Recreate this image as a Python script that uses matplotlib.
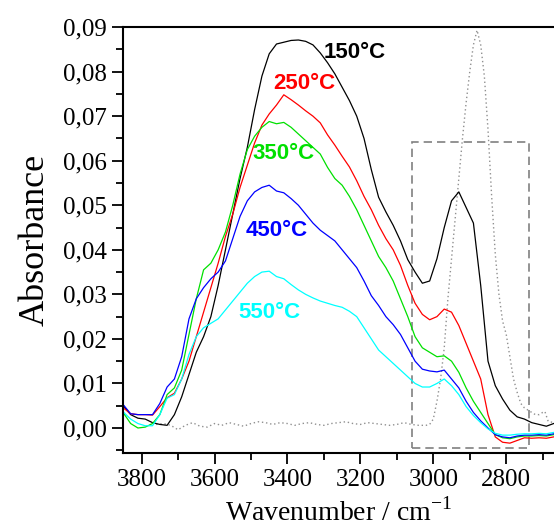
"""FTIR spectra of the adsorbed species at different temperatures."""

import matplotlib

matplotlib.use("Agg")
import matplotlib.pyplot as plt
from matplotlib.patches import Rectangle
from matplotlib.ticker import FuncFormatter, MultipleLocator

# wavenumber grid shared by the five spectra (cm-1)
wavenumber = [
    3850, 3830, 3810, 3790, 3770, 3750, 3730, 3710, 3690, 3670,
    3650, 3630, 3610, 3590, 3570, 3550, 3530, 3510, 3490, 3470,
    3450, 3430, 3410, 3390, 3370, 3350, 3330, 3310, 3290, 3270,
    3250, 3230, 3210, 3190, 3170, 3150, 3130, 3110, 3090, 3070,
    3050, 3030, 3010, 2990, 2970, 2950, 2930, 2910, 2890, 2870,
    2850, 2830, 2810, 2790, 2770, 2750, 2730, 2710, 2690, 2670,
]

abs_150 = [
    0.0050, 0.0030, 0.0022, 0.0020, 0.0012, 0.0008, 0.0006, 0.0030, 0.0070, 0.0120,
    0.0170, 0.0205, 0.0250, 0.0320, 0.0400, 0.0480, 0.0560, 0.0630, 0.0715, 0.0790,
    0.0840, 0.0862, 0.0866, 0.0870, 0.0871, 0.0868, 0.0860, 0.0842, 0.0820, 0.0795,
    0.0765, 0.0735, 0.0700, 0.0650, 0.0580, 0.0518, 0.0485, 0.0455, 0.0420, 0.0378,
    0.0350, 0.0325, 0.0330, 0.0380, 0.0450, 0.0510, 0.0530, 0.0495, 0.0460, 0.0320,
    0.0150, 0.0095, 0.0065, 0.0040, 0.0025, 0.0020, 0.0012, 0.0008, 0.0004, 0.0010,
]

abs_250 = [
    0.0045, 0.0032, 0.0030, 0.0030, 0.0029, 0.0048, 0.0068, 0.0078, 0.0110, 0.0150,
    0.0205, 0.0260, 0.0315, 0.0370, 0.0430, 0.0480, 0.0540, 0.0590, 0.0640, 0.0680,
    0.0705, 0.0725, 0.0748, 0.0737, 0.0725, 0.0712, 0.0700, 0.0685, 0.0658, 0.0635,
    0.0610, 0.0586, 0.0555, 0.0520, 0.0490, 0.0455, 0.0425, 0.0400, 0.0365, 0.0320,
    0.0280, 0.0255, 0.0243, 0.0250, 0.0267, 0.0260, 0.0230, 0.0190, 0.0150, 0.0110,
    0.0030, -0.0020, -0.0032, -0.0034, -0.0028, -0.0022, -0.0023, -0.0022, -0.0023, -0.0020,
]

abs_350 = [
    0.0034, 0.0010, 0.0000, 0.0002, 0.0010, 0.0030, 0.0075, 0.0090, 0.0130, 0.0210,
    0.0290, 0.0355, 0.0370, 0.0400, 0.0440, 0.0500, 0.0570, 0.0625, 0.0655, 0.0675,
    0.0688, 0.0683, 0.0686, 0.0675, 0.0660, 0.0645, 0.0630, 0.0615, 0.0585, 0.0560,
    0.0545, 0.0520, 0.0490, 0.0455, 0.0420, 0.0385, 0.0360, 0.0330, 0.0290, 0.0250,
    0.0205, 0.0180, 0.0170, 0.0160, 0.0162, 0.0150, 0.0125, 0.0090, 0.0060, 0.0035,
    0.0010, -0.0015, -0.0022, -0.0024, -0.0020, -0.0018, -0.0018, -0.0017, -0.0018, -0.0015,
]

abs_450 = [
    0.0052, 0.0032, 0.0030, 0.0030, 0.0030, 0.0055, 0.0092, 0.0110, 0.0160, 0.0245,
    0.0290, 0.0315, 0.0335, 0.0350, 0.0375, 0.0425, 0.0475, 0.0510, 0.0530, 0.0540,
    0.0545, 0.0532, 0.0528, 0.0515, 0.0500, 0.0480, 0.0460, 0.0444, 0.0432, 0.0420,
    0.0400, 0.0380, 0.0360, 0.0330, 0.0297, 0.0275, 0.0250, 0.0232, 0.0210, 0.0180,
    0.0150, 0.0132, 0.0128, 0.0126, 0.0130, 0.0110, 0.0090, 0.0060, 0.0035, 0.0016,
    0.0000, -0.0015, -0.0020, -0.0022, -0.0018, -0.0016, -0.0016, -0.0015, -0.0016, -0.0013,
]

abs_550 = [
    0.0036, 0.0020, 0.0010, 0.0005, 0.0005, 0.0030, 0.0067, 0.0075, 0.0110, 0.0165,
    0.0205, 0.0225, 0.0235, 0.0245, 0.0265, 0.0285, 0.0305, 0.0325, 0.0340, 0.0350,
    0.0352, 0.0340, 0.0335, 0.0322, 0.0310, 0.0300, 0.0292, 0.0285, 0.0280, 0.0275,
    0.0271, 0.0262, 0.0250, 0.0225, 0.0200, 0.0175, 0.0160, 0.0145, 0.0130, 0.0115,
    0.0100, 0.0092, 0.0092, 0.0100, 0.0110, 0.0095, 0.0075, 0.0048, 0.0028, 0.0012,
    -0.0002, -0.0012, -0.0016, -0.0016, -0.0014, -0.0013, -0.0013, -0.0012, -0.0013, -0.0010,
]

# reference spectrum (dotted grey)
ref_wavenumber = [
    3760, 3740, 3720, 3700, 3680, 3660, 3640, 3620, 3600, 3580,
    3560, 3540, 3520, 3500, 3480, 3460, 3440, 3420, 3400, 3380,
    3360, 3340, 3320, 3300, 3280, 3260, 3240, 3220, 3200, 3180,
    3160, 3140, 3120, 3100, 3080, 3060, 3040, 3020, 3010, 3000,
    2990, 2980, 2970, 2960, 2950, 2940, 2930, 2920, 2910, 2900,
    2890, 2880, 2870, 2860, 2850, 2840, 2830, 2820, 2810, 2800,
    2790, 2780, 2770, 2760, 2750, 2740, 2730, 2720, 2710, 2700,
    2694, 2685, 2670,
]
ref_abs = [
    0.0008, 0.0010, 0.0006, -0.0004, 0.0006, 0.0012, 0.0004, 0.0002, 0.0010, 0.0006,
    0.0012, 0.0008, 0.0004, 0.0010, 0.0014, 0.0012, 0.0008, 0.0012, 0.0010, 0.0006,
    0.0010, 0.0012, 0.0008, 0.0006, 0.0010, 0.0012, 0.0014, 0.0010, 0.0008, 0.0012,
    0.0010, 0.0008, 0.0006, 0.0008, 0.0012, 0.0008, 0.0006, 0.0006, 0.0008, 0.0020,
    0.0060, 0.0110, 0.0180, 0.0290, 0.0380, 0.0470, 0.0560, 0.0650, 0.0730, 0.0800,
    0.0860, 0.0893, 0.0860, 0.0790, 0.0670, 0.0520, 0.0390, 0.0300, 0.0240, 0.0210,
    0.0160, 0.0110, 0.0080, 0.0055, 0.0045, 0.0040, 0.0035, 0.0030, 0.0030, 0.0035,
    0.0037, 0.0015, 0.0012,
]

series = [
    (abs_150, "black", "150°C", 3300, 0.0843),
    (abs_250, "red", "250°C", 3440, 0.0774),
    (abs_350, "#00e000", "350°C", 3495, 0.0617),
    (abs_450, "blue", "450°C", 3514, 0.0444),
    (abs_550, "cyan", "550°C", 3536, 0.0260),
]

# zoom window drawn around the C-H stretching region
box_x = [3058, 2738]
box_y = [-0.0044, 0.0642]

serif = "Liberation Serif"
sans = "Liberation Sans"

plt.rcParams["mathtext.fontset"] = "custom"
plt.rcParams["mathtext.rm"] = serif

figure = plt.figure(figsize=(5.54, 5.31), dpi=100)
axis = figure.add_axes([0.222, 0.147, 0.778, 0.802])

axis.plot(ref_wavenumber, ref_abs, linestyle=(0, (1, 2)), color="#909090", linewidth=1.0)
for values, color, label, tx, ty in series:
    axis.plot(wavenumber, values, color=color, linewidth=0.9)
    axis.text(tx, ty, label, color=color, fontsize=16, fontweight="bold",
              family=sans, ha="left", va="center")

axis.add_patch(Rectangle((box_x[0], box_y[0]), box_x[1] - box_x[0], box_y[1] - box_y[0],
                         fill=False, edgecolor="gray", linestyle=(0, (5, 3)),
                         linewidth=1.2))

axis.set_xlim(3851, 2669)
axis.set_ylim(-0.0056, 0.09)
axis.xaxis.set_major_locator(MultipleLocator(200))
axis.xaxis.set_minor_locator(MultipleLocator(100))
axis.yaxis.set_major_locator(MultipleLocator(0.01))
axis.yaxis.set_minor_locator(MultipleLocator(0.005))
axis.yaxis.set_major_formatter(FuncFormatter(lambda v, _: f"{v:.2f}".replace(".", ",")))

axis.tick_params(which="both", direction="out", width=1.3, labelsize=18)
axis.tick_params(which="major", length=8)
axis.tick_params(which="minor", length=5)
for tick in axis.get_xticklabels() + axis.get_yticklabels():
    tick.set_family(serif)
axis.spines["right"].set_visible(False)
for side in ("left", "bottom", "top"):
    axis.spines[side].set_linewidth(1.5)

axis.set_xlabel("Wavenumber / cm$^{\\mathregular{-1}}$", family=serif, fontsize=20,
                labelpad=5)
axis.set_ylabel("Absorbance", family=serif, fontsize=26, labelpad=8)

figure.savefig("out.png", dpi=100)
plt.close(figure)
